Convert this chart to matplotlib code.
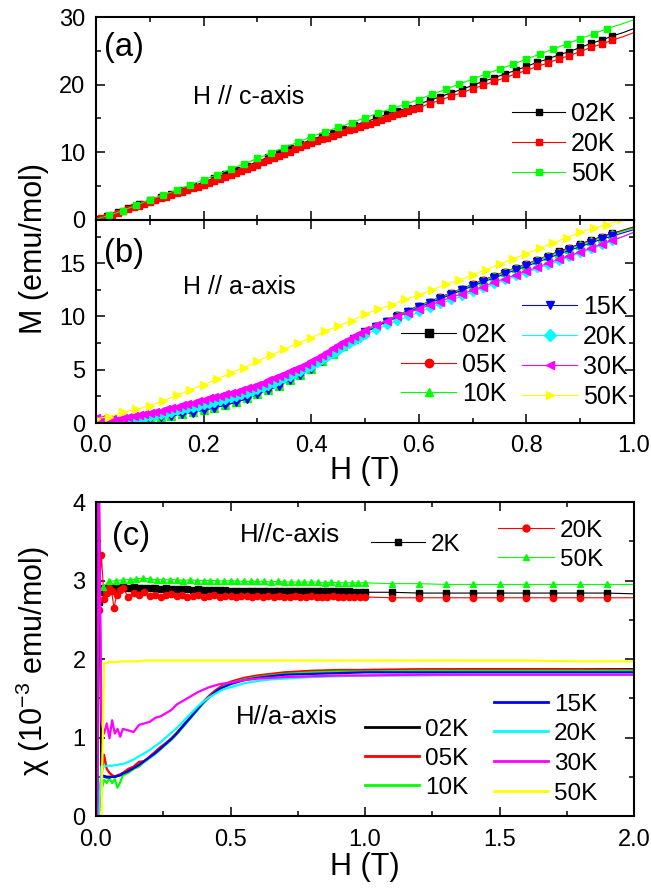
import numpy as np
import matplotlib
matplotlib.use("Agg")
import matplotlib.pyplot as plt
from matplotlib.lines import Line2D
from matplotlib.ticker import MultipleLocator, FormatStrFormatter

plt.rcParams['font.family'] = ['Liberation Sans', 'DejaVu Sans']
plt.rcParams['mathtext.default'] = 'regular'

# ---------------- data ----------------
# field grids (T)
h_02 = [0.00, 0.02, 0.04, 0.06, 0.08, 0.10, 0.12, 0.14, 0.16, 0.18,
        0.20, 0.22, 0.24, 0.26, 0.28, 0.30, 0.32, 0.34, 0.36, 0.38,
        0.40, 0.42, 0.44, 0.46, 0.48, 0.50, 0.52, 0.54, 0.56, 0.58,
        0.60, 0.62, 0.64, 0.66, 0.68, 0.70, 0.72, 0.74, 0.76, 0.78,
        0.80, 0.82, 0.84, 0.86, 0.88, 0.90, 0.92, 0.94, 0.96, 0.98, 1.00]
h_025 = [0.000, 0.025, 0.050, 0.075, 0.100, 0.125, 0.150, 0.175, 0.200, 0.225,
         0.250, 0.275, 0.300, 0.325, 0.350, 0.375, 0.400, 0.425, 0.450, 0.475,
         0.500, 0.525, 0.550, 0.575, 0.600, 0.625, 0.650, 0.675, 0.700, 0.725,
         0.750, 0.775, 0.800, 0.825, 0.850, 0.875, 0.900, 0.925, 0.950, 0.975, 1.000]
h_a_red = [0.00, 0.01, 0.02, 0.03, 0.04, 0.05, 0.06, 0.07, 0.08, 0.09,
           0.10, 0.11, 0.12, 0.13, 0.14, 0.15, 0.16, 0.17, 0.18, 0.19,
           0.20, 0.21, 0.22, 0.23, 0.24, 0.25, 0.26, 0.27, 0.28, 0.29,
           0.30, 0.31, 0.32, 0.33, 0.34, 0.35, 0.36, 0.37, 0.38, 0.39,
           0.40, 0.41, 0.42, 0.43, 0.44, 0.45, 0.46, 0.47, 0.48, 0.49,
           0.50, 0.51, 0.52, 0.53, 0.54, 0.55, 0.56, 0.57, 0.58, 0.59,
           0.60, 0.62, 0.64, 0.66, 0.68, 0.70, 0.72, 0.74, 0.76, 0.78,
           0.80, 0.82, 0.84, 0.86, 0.88, 0.90, 0.92, 0.94, 0.96, 0.98, 1.00]
h_b_fine = [0.00, 0.01, 0.02, 0.03, 0.04, 0.05, 0.06, 0.07, 0.08, 0.09,
            0.10, 0.11, 0.12, 0.13, 0.14, 0.15, 0.16, 0.17, 0.18, 0.19,
            0.20, 0.21, 0.22, 0.23, 0.24, 0.25, 0.26, 0.27, 0.28, 0.29,
            0.30, 0.31, 0.32, 0.33, 0.34, 0.35, 0.36, 0.37, 0.38, 0.39,
            0.40, 0.41, 0.42, 0.43, 0.44, 0.45, 0.46, 0.47, 0.48, 0.49,
            0.50, 0.52, 0.54, 0.56, 0.58, 0.60, 0.62, 0.64, 0.66, 0.68,
            0.70, 0.72, 0.74, 0.76, 0.78, 0.80, 0.82, 0.84, 0.86, 0.88,
            0.90, 0.92, 0.94, 0.96, 0.98, 1.00]

# (a) M, H // c-axis (emu/mol)
ma_02K = [0.1, 0.6, 1.2, 1.7, 2.3, 2.9, 3.4, 3.9, 4.5, 5.0,
          5.6, 6.2, 6.8, 7.4, 8.0, 8.6, 9.3, 9.9, 10.6, 11.2,
          11.9, 12.4, 12.9, 13.5, 14.0, 14.5, 15.0, 15.6, 16.1, 16.6,
          17.1, 17.7, 18.2, 18.8, 19.3, 19.9, 20.5, 21.0, 21.6, 22.1,
          22.7, 23.3, 23.8, 24.4, 24.9, 25.5, 26.1, 26.6, 27.2, 27.7, 28.3]
ma_20K = [0.0, 0.25, 0.5, 0.75, 1.0, 1.3, 1.6, 1.85, 2.1, 2.4,
          2.7, 2.95, 3.2, 3.45, 3.7, 3.95, 4.2, 4.45, 4.7, 4.95,
          5.2, 5.5, 5.8, 6.1, 6.4, 6.7, 7.0, 7.3, 7.6, 7.9,
          8.2, 8.5, 8.8, 9.15, 9.5, 9.8, 10.1, 10.45, 10.8, 11.1,
          11.4, 11.65, 11.9, 12.15, 12.4, 12.7, 13.0, 13.25, 13.5, 13.75,
          14.0, 14.25, 14.5, 14.75, 15.0, 15.3, 15.6, 15.85, 16.1, 16.35,
          16.6, 17.2, 17.7, 18.3, 18.8, 19.4, 19.9, 20.5, 21.0, 21.6,
          22.1, 22.7, 23.2, 23.8, 24.3, 24.9, 25.5, 26.0, 26.6, 27.1, 27.7]
ma_50K = [0.1, 0.7, 1.4, 2.2, 3.0, 3.7, 4.4, 5.2, 5.9, 6.7,
          7.5, 8.3, 9.1, 9.9, 10.7, 11.5, 12.3, 13.0, 13.7, 14.4,
          15.1, 15.8, 16.5, 17.1, 17.8, 18.6, 19.3, 20.1, 20.8, 21.6,
          22.3, 23.0, 23.8, 24.5, 25.3, 26.0, 26.8, 27.5, 28.3, 28.9, 29.6]

# (b) M, H // a-axis (emu/mol)
mb_02K = [0.2, 0.05, 0.1, 0.2, 0.3, 0.45, 0.55, 0.67, 0.82, 1.0,
          1.25, 1.45, 1.7, 1.95, 2.3, 2.7, 3.1, 3.5, 4.0, 4.5,
          5.1, 5.8, 6.5, 7.2, 7.9, 8.55, 9.1, 9.6, 10.1, 10.55,
          11.0, 11.4, 11.8, 12.2, 12.6, 13.0, 13.4, 13.8, 14.2, 14.55,
          14.9, 15.3, 15.7, 16.1, 16.45, 16.8, 17.15, 17.5, 17.8, 18.1, 18.4]
mb_05K = [0.3, 0.05, 0.1, 0.2, 0.3, 0.45, 0.55, 0.68, 0.83, 1.0,
          1.25, 1.45, 1.7, 1.95, 2.3, 2.7, 3.1, 3.5, 4.0, 4.5,
          5.1, 5.8, 6.5, 7.2, 7.9, 8.55, 9.1, 9.6, 10.1, 10.55,
          11.0, 11.4, 11.8, 12.2, 12.6, 13.0, 13.4, 13.8, 14.2, 14.55,
          14.9, 15.3, 15.7, 16.05, 16.4, 16.75, 17.1, 17.45, 17.75, 18.05, 18.35]
mb_10K = [0.4, 0.05, 0.1, 0.2, 0.3, 0.45, 0.55, 0.68, 0.83, 1.0,
          1.25, 1.45, 1.7, 1.95, 2.3, 2.7, 3.1, 3.5, 4.0, 4.5,
          5.1, 5.8, 6.5, 7.2, 7.9, 8.55, 9.1, 9.6, 10.1, 10.5,
          10.95, 11.35, 11.75, 12.15, 12.55, 12.95, 13.35, 13.75, 14.15, 14.5,
          14.85, 15.25, 15.65, 16.0, 16.35, 16.7, 17.05, 17.4, 17.7, 18.0, 18.3]
mb_15K = [0.2, 0.05, 0.1, 0.18, 0.28, 0.42, 0.52, 0.65, 0.8, 0.98,
          1.2, 1.42, 1.67, 1.93, 2.28, 2.68, 3.08, 3.5, 4.0, 4.5,
          5.1, 5.8, 6.5, 7.2, 7.85, 8.5, 9.0, 9.5, 9.95, 10.4,
          10.85, 11.25, 11.65, 12.05, 12.45, 12.85, 13.25, 13.6, 14.0, 14.35,
          14.7, 15.1, 15.45, 15.85, 16.2, 16.55, 16.9, 17.25, 17.55, 17.85, 18.15]
mb_20K = [0.3, 0.1, 0.05, 0.1, 0.15, 0.21, 0.28, 0.35, 0.42, 0.51,
          0.6, 0.69, 0.78, 0.88, 0.98, 1.09, 1.2, 1.31, 1.42, 1.53,
          1.65, 1.77, 1.9, 2.02, 2.15, 2.3, 2.45, 2.6, 2.75, 2.92,
          3.1, 3.3, 3.5, 3.7, 3.9, 4.12, 4.35, 4.57, 4.8, 5.05,
          5.3, 5.6, 5.9, 6.2, 6.5, 6.8, 7.1, 7.4, 7.7, 7.98,
          8.25, 8.75, 9.2, 9.6, 10.0, 10.4, 10.8, 11.2, 11.55, 11.9,
          12.3, 12.65, 13.0, 13.4, 13.75, 14.1, 14.5, 14.85, 15.2, 15.6,
          15.95, 16.3, 16.7, 17.1, 17.5, 17.9]
mb_30K = [0.5, 0.35, 0.3, 0.35, 0.4, 0.47, 0.55, 0.65, 0.75, 0.85,
          0.94, 1.05, 1.15, 1.27, 1.4, 1.52, 1.65, 1.77, 1.9, 2.05,
          2.2, 2.32, 2.45, 2.57, 2.7, 2.82, 2.95, 3.1, 3.25, 3.42,
          3.6, 3.8, 4.0, 4.2, 4.4, 4.62, 4.85, 5.07, 5.3, 5.55,
          5.8, 6.1, 6.4, 6.7, 7.0, 7.3, 7.6, 7.9, 8.2, 8.48,
          8.75, 9.2, 9.6, 10.0, 10.35, 10.7, 11.05, 11.4, 11.8, 12.1,
          12.45, 12.8, 13.2, 13.55, 13.9, 14.25, 14.6, 15.0, 15.35, 15.7,
          16.05, 16.4, 16.8, 17.15, 17.5, 17.9]
mb_50K = [0.4, 0.6, 1.0, 1.3, 1.6, 2.1, 2.6, 3.1, 3.6, 4.1,
          4.7, 5.2, 5.8, 6.4, 6.9, 7.5, 8.0, 8.6, 9.1, 9.6,
          10.2, 10.7, 11.1, 11.6, 12.0, 12.5, 13.0, 13.4, 13.9, 14.4,
          14.9, 15.4, 15.9, 16.4, 16.9, 17.4, 17.9, 18.3, 18.6, 19.1, 19.6]

# (c) chi, H // a-axis (10^-3 emu/mol)
chi_h = [0.005, 0.01, 0.02, 0.03, 0.04, 0.05, 0.06, 0.07, 0.08, 0.09,
         0.10, 0.12, 0.14, 0.16, 0.18, 0.20, 0.22, 0.24, 0.26, 0.28,
         0.30, 0.32, 0.34, 0.36, 0.38, 0.40, 0.42, 0.44, 0.46, 0.48,
         0.50, 0.55, 0.60, 0.65, 0.70, 0.80, 0.90, 1.00, 1.20, 1.40,
         1.60, 1.80, 2.00]
chia_02K = [0.0, 4.5, 0.52, 0.51, 0.50, 0.50, 0.50, 0.50, 0.51, 0.52,
            0.54, 0.57, 0.61, 0.65, 0.70, 0.75, 0.80, 0.86, 0.92, 0.98,
            1.05, 1.13, 1.21, 1.29, 1.37, 1.45, 1.52, 1.58, 1.63, 1.67,
            1.70, 1.75, 1.78, 1.80, 1.82, 1.84, 1.85, 1.86, 1.86, 1.87,
            1.87, 1.87, 1.87]
chia_05K = [0.0, 0.0, 0.5, 0.78, 0.6, 0.55, 0.52, 0.5, 0.52, 0.53,
            0.55, 0.6, 0.63, 0.69, 0.7, 0.76, 0.82, 0.88, 0.93, 0.99,
            1.06, 1.14, 1.22, 1.3, 1.38, 1.46, 1.53, 1.59, 1.64, 1.68,
            1.71, 1.76, 1.79, 1.81, 1.83, 1.85, 1.86, 1.86, 1.87, 1.87,
            1.87, 1.87, 1.86]
chia_10K = [0.0, 0.0, 0.33, 0.46, 0.42, 0.48, 0.42, 0.47, 0.36, 0.43,
            0.52, 0.55, 0.6, 0.63, 0.69, 0.74, 0.79, 0.85, 0.91, 0.97,
            1.04, 1.12, 1.2, 1.28, 1.36, 1.44, 1.51, 1.57, 1.62, 1.66,
            1.69, 1.74, 1.77, 1.79, 1.81, 1.83, 1.84, 1.84, 1.85, 1.85,
            1.85, 1.85, 1.85]
chia_15K = [0.0, 0.0, 0.5, 0.5, 0.49, 0.49, 0.5, 0.5, 0.51, 0.52,
            0.54, 0.57, 0.61, 0.65, 0.7, 0.75, 0.8, 0.86, 0.92, 0.98,
            1.05, 1.13, 1.21, 1.29, 1.37, 1.45, 1.51, 1.57, 1.62, 1.65,
            1.68, 1.73, 1.76, 1.78, 1.8, 1.81, 1.82, 1.83, 1.83, 1.83,
            1.83, 1.83, 1.83]
chia_20K = [0.0, 0.0, 0.63, 0.63, 0.64, 0.64, 0.64, 0.65, 0.65, 0.66,
            0.66, 0.69, 0.72, 0.76, 0.8, 0.84, 0.89, 0.94, 1.0, 1.06,
            1.12, 1.19, 1.26, 1.33, 1.4, 1.46, 1.51, 1.55, 1.59, 1.62,
            1.64, 1.69, 1.72, 1.74, 1.75, 1.77, 1.78, 1.79, 1.79, 1.8,
            1.8, 1.8, 1.8]
chia_30K = [0.0, 4.5, 1.2, 1.05, 1.18, 0.99, 1.22, 1.05, 1.11, 1.01,
            1.11, 1.09, 1.07, 1.16, 1.18, 1.2, 1.25, 1.27, 1.31, 1.35,
            1.42, 1.46, 1.5, 1.54, 1.58, 1.61, 1.64, 1.66, 1.68, 1.69,
            1.7, 1.73, 1.75, 1.76, 1.77, 1.78, 1.79, 1.79, 1.8, 1.8,
            1.8, 1.8, 1.8]
chia_50K = [0.0, 0.0, 0.0, 1.95, 1.95, 1.96, 1.96, 1.96, 1.96, 1.97,
            1.97, 1.97, 1.97, 1.97, 1.98, 1.98, 1.98, 1.98, 1.98, 1.98,
            1.98, 1.98, 1.98, 1.98, 1.98, 1.98, 1.98, 1.98, 1.98, 1.98,
            1.98, 1.98, 1.98, 1.98, 1.98, 1.98, 1.98, 1.98, 1.98, 1.98,
            1.98, 1.97, 1.97]

# (c) chi, H // c-axis
c_h = [0.01, 0.02, 0.03, 0.04, 0.05, 0.058, 0.067, 0.077, 0.088, 0.10,
       0.12, 0.14, 0.16, 0.18, 0.20, 0.22, 0.24, 0.26, 0.28, 0.30,
       0.32, 0.34, 0.36, 0.38, 0.40, 0.42, 0.44, 0.46, 0.48, 0.50,
       0.52, 0.54, 0.56, 0.58, 0.60, 0.62, 0.64, 0.66, 0.68, 0.70,
       0.72, 0.74, 0.76, 0.78, 0.80, 0.82, 0.84, 0.86, 0.88, 0.90,
       0.92, 0.94, 0.96, 0.98, 1.00, 1.10, 1.20, 1.30, 1.40, 1.50,
       1.60, 1.70, 1.80, 1.90, 2.00]
chic_2K = [2.72, 2.85, 2.90, 2.91, 2.92, 2.91, 2.92, 2.91, 2.92, 2.92,
           2.91, 2.92, 2.91, 2.90, 2.90, 2.90, 2.89, 2.90, 2.89, 2.89,
           2.89, 2.89, 2.88, 2.89, 2.88, 2.88, 2.88, 2.88, 2.88, 2.87,
           2.87, 2.87, 2.87, 2.87, 2.87, 2.87, 2.86, 2.87, 2.86, 2.87,
           2.86, 2.86, 2.86, 2.86, 2.86, 2.86, 2.86, 2.86, 2.86, 2.86,
           2.86, 2.86, 2.85, 2.85, 2.85, 2.85, 2.84, 2.84, 2.84, 2.84,
           2.84, 2.84, 2.84, 2.84, 2.83]
chic_20K = [2.62, 3.32, 2.76, 2.84, 2.91, 2.86, 2.65, 2.82, 2.88, 2.90,
            2.79, 2.84, 2.82, 2.85, 2.80, 2.82, 2.79, 2.81, 2.83, 2.80,
            2.81, 2.79, 2.80, 2.81, 2.79, 2.80, 2.81, 2.79, 2.80, 2.80,
            2.79, 2.80, 2.80, 2.79, 2.80, 2.79, 2.80, 2.79, 2.80, 2.79,
            2.79, 2.80, 2.79, 2.79, 2.80, 2.79, 2.79, 2.79, 2.80, 2.79,
            2.79, 2.79, 2.79, 2.79, 2.79, 2.78, 2.78, 2.78, 2.78, 2.78,
            2.78, 2.78, 2.78, 2.78, 2.78]
g_h = [0.025, 0.050, 0.075, 0.100, 0.125, 0.150, 0.175, 0.200, 0.225, 0.250,
       0.275, 0.300, 0.325, 0.350, 0.375, 0.400, 0.425, 0.450, 0.475, 0.500,
       0.525, 0.550, 0.575, 0.600, 0.625, 0.650, 0.675, 0.700, 0.725, 0.750,
       0.775, 0.800, 0.825, 0.850, 0.875, 0.900, 0.925, 0.950, 0.975, 1.000,
       1.1, 1.2, 1.3, 1.4, 1.5, 1.6, 1.7, 1.8, 1.9, 2.0]
chic_50K = [2.92, 2.99, 3.00, 3.01, 3.01, 3.02, 3.03, 3.02, 3.01, 3.01,
            3.01, 3.01, 3.00, 3.01, 3.00, 3.00, 3.00, 3.00, 2.99, 3.00,
            2.99, 2.99, 2.99, 2.99, 2.99, 2.98, 2.99, 2.98, 2.98, 2.98,
            2.98, 2.98, 2.98, 2.97, 2.98, 2.97, 2.97, 2.97, 2.97, 2.97,
            2.96, 2.96, 2.95, 2.95, 2.95, 2.95, 2.95, 2.95, 2.95, 2.95]

# ---------------- figure ----------------
W, H = 651, 888
fig = plt.figure(figsize=(W / 100, H / 100), dpi=100)


def box(l, t, r, b):
    return [l / W, 1 - b / H, (r - l) / W, (b - t) / H]


def style(ax):
    ax.tick_params(which='both', direction='in', top=True, right=True,
                   width=1.1, labelsize=17)
    ax.tick_params(which='major', length=6.5)
    ax.tick_params(which='minor', length=3.5)
    ax.tick_params(axis='y', pad=7.5)
    ax.tick_params(axis='x', pad=9)
    for s in ax.spines.values():
        s.set_linewidth(1.5)


def ftext(x, yc, s, fs, k=0.36, **kw):
    # x = left edge in px, yc = visual middle of the capitals in px
    base = yc + k * fs * 100 / 72
    fig.text(x / W, 1 - base / H, s, fontsize=fs, ha='left', va='baseline', **kw)


def key(x0, x1, y, label, fs, **kw):
    xs = [x0 / W, (x0 + x1) / 2 / W, x1 / W]
    ys = [1 - y / H] * 3
    fig.add_artist(Line2D(xs, ys, transform=fig.transFigure, markevery=[1], **kw))
    ftext(x1 + 6, y, label, fs)


ax_a = fig.add_axes(box(96, 17, 634, 220))
ax_b = fig.add_axes(box(96, 220, 634, 423))
ax_c = fig.add_axes(box(96, 502, 634, 816))

# (a)
ax_a.plot(h_02, ma_02K, '-s', color='black', lw=0.8, ms=4.5,
          markevery=slice(0, len(h_02) - 2))
ax_a.plot(h_a_red, ma_20K, '-s', color='red', lw=0.8, ms=4.5,
          markevery=slice(0, len(h_a_red) - 2))
ax_a.plot(h_025, ma_50K, '-s', color='#00ff00', lw=0.8, ms=4.5,
          markevery=slice(1, len(h_025) - 2))
ax_a.set_xlim(0, 1)
ax_a.set_ylim(0, 30)
ax_a.xaxis.set_major_locator(MultipleLocator(0.2))
ax_a.xaxis.set_minor_locator(MultipleLocator(0.1))
ax_a.yaxis.set_major_locator(MultipleLocator(10))
ax_a.yaxis.set_minor_locator(MultipleLocator(5))
style(ax_a)
ax_a.tick_params(labelbottom=False)

# (b)
sty_b = dict(lw=0.8, markevery=slice(0, len(h_02) - 2))
ax_b.plot(h_02, mb_02K, '-s', color='black', ms=4.5, **sty_b)
ax_b.plot(h_02, mb_05K, '-o', color='red', ms=4.5, **sty_b)
ax_b.plot(h_02, mb_10K, '-^', color='#00ff00', ms=5.5, **sty_b)
ax_b.plot(h_02, mb_15K, '-v', color='blue', ms=5.5, **sty_b)
ax_b.plot(h_b_fine, mb_20K, '-D', color='cyan', ms=4.5, lw=0.8,
          markevery=slice(0, len(h_b_fine) - 2))
ax_b.plot(h_b_fine, mb_30K, '-<', color='magenta', ms=5.5, lw=0.8,
          markevery=slice(0, len(h_b_fine) - 2))
ax_b.plot(h_025, mb_50K, '->', color='yellow', ms=6, lw=0.8,
          markevery=slice(0, len(h_025) - 1))
ax_b.set_xlim(0, 1)
ax_b.set_ylim(0, 19.05)
ax_b.xaxis.set_major_locator(MultipleLocator(0.2))
ax_b.xaxis.set_minor_locator(MultipleLocator(0.1))
ax_b.xaxis.set_major_formatter(FormatStrFormatter('%.1f'))
ax_b.yaxis.set_major_locator(MultipleLocator(5))
ax_b.yaxis.set_minor_locator(MultipleLocator(2.5))
style(ax_b)

# (c)
nc = len(c_h) - 1
ax_c.plot(c_h, chic_2K, '-s', color='black', lw=0.8, ms=3.8, markevery=slice(0, nc))
ax_c.plot(c_h, chic_20K, '-o', color='red', lw=0.8, ms=4.5, markevery=slice(0, nc))
ax_c.plot(g_h, chic_50K, '-^', color='#00ff00', lw=0.8, ms=4.8,
          markevery=slice(0, len(g_h) - 1))
ax_c.plot(chi_h, chia_02K, '-', color='black', lw=1.6)
ax_c.plot(chi_h, chia_05K, '-', color='red', lw=1.6)
ax_c.plot(chi_h, chia_10K, '-', color='#00ff00', lw=1.6)
ax_c.plot(chi_h, chia_15K, '-', color='blue', lw=1.6)
ax_c.plot(chi_h, chia_20K, '-', color='cyan', lw=1.6)
ax_c.plot(chi_h, chia_30K, '-', color='magenta', lw=1.6)
ax_c.plot(chi_h, chia_50K, '-', color='yellow', lw=1.6)
ax_c.set_xlim(0, 2)
ax_c.set_ylim(0, 4)
ax_c.xaxis.set_major_locator(MultipleLocator(0.5))
ax_c.xaxis.set_minor_locator(MultipleLocator(0.25))
ax_c.xaxis.set_major_formatter(FormatStrFormatter('%.1f'))
ax_c.yaxis.set_major_locator(MultipleLocator(1))
ax_c.yaxis.set_minor_locator(MultipleLocator(0.5))
style(ax_c)

# labels
fig.text(34 / W, 1 - 248 / H, 'M (emu/mol)', rotation=90, fontsize=22,
         ha='center', va='center')
fig.text(33 / W, 1 - 661 / H, 'χ (10$^{-3}$ emu/mol)', rotation=90, fontsize=22,
         ha='center', va='center')
fig.text(365 / W, 1 - 471 / H, 'H (T)', fontsize=22, ha='center', va='center')
fig.text(365 / W, 1 - 867 / H, 'H (T)', fontsize=22, ha='center', va='center')

ftext(104, 48, '(a)', 23.5, k=0.26)
ftext(104, 254, '(b)', 23.5, k=0.26)
ftext(112, 537, '(c)', 23.5, k=0.26)
ftext(193, 95, 'H // c-axis', 18)
ftext(183, 284.5, 'H // a-axis', 18)
ftext(240, 533, 'H//c-axis', 18.5)
ftext(236, 715, 'H//a-axis', 18.5)

# legend (a)
for y, lab, col in [(112, '02K', 'black'), (142, '20K', 'red'), (172, '50K', '#00ff00')]:
    key(512, 565, y, lab, 18, color=col, lw=0.8, marker='s', ms=5)

# legend (b)
for y, lab, col, mk in [(333, '02K', 'black', 's'), (363, '05K', 'red', 'o'),
                        (392, '10K', '#00ff00', '^')]:
    key(401, 456, y, lab, 18, color=col, lw=0.8, marker=mk, ms=6)
for y, lab, col, mk in [(305, '15K', 'blue', 'v'), (335, '20K', 'cyan', 'D'),
                        (365, '30K', 'magenta', '<'), (395, '50K', 'yellow', '>')]:
    key(522, 577, y, lab, 18, color=col, lw=0.8, marker=mk, ms=6)

# legend (c), c-axis
key(371, 425, 542, '2K', 17.5, color='black', lw=0.8, marker='s', ms=4.5)
key(498, 554, 528, '20K', 17.5, color='red', lw=0.8, marker='o', ms=5)
key(498, 554, 557, '50K', 17.5, color='#00ff00', lw=0.8, marker='^', ms=5)

# legend (c), a-axis
for y, lab, col in [(727, '02K', 'black'), (756, '05K', 'red'), (785, '10K', '#00ff00')]:
    key(365, 419, y, lab, 17.5, color=col, lw=2)
for y, lab, col in [(702, '15K', 'blue'), (731, '20K', 'cyan'),
                    (761, '30K', 'magenta'), (791, '50K', 'yellow')]:
    key(494, 548, y, lab, 17.5, color=col, lw=2)

fig.savefig('out.png', dpi=100)
